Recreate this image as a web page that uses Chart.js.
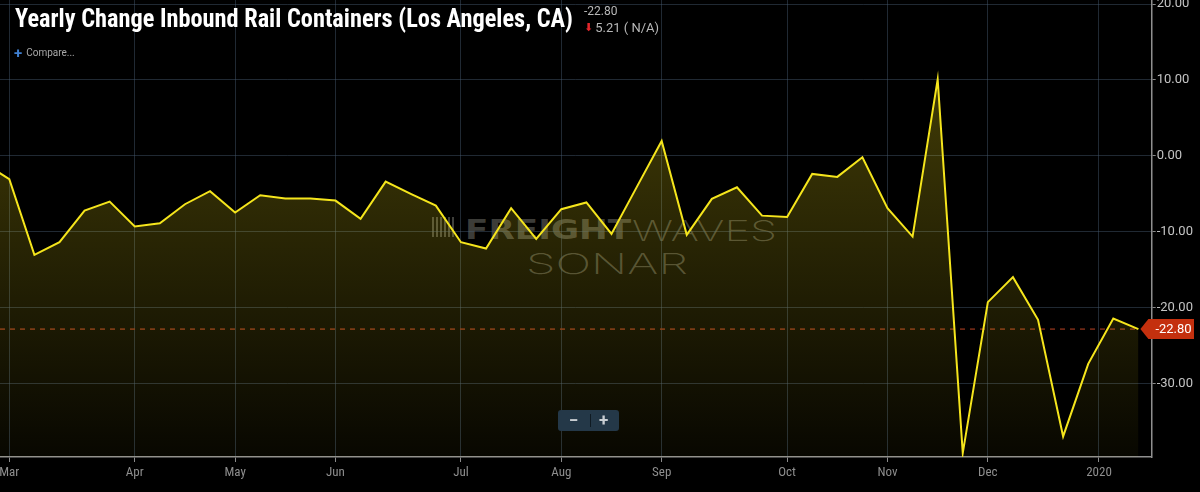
<!DOCTYPE html>
<html>
<head>
<meta charset="utf-8">
<title>Yearly Change Inbound Rail Containers (Los Angeles, CA)</title>
<script src="https://cdn.jsdelivr.net/npm/chart.js@4.4.1/dist/chart.umd.min.js"></script>
<style>
    html, body { margin: 0; padding: 0; background: #000; overflow: hidden; }
    #wrap { position: relative; width: 1200px; height: 492px; }
    #chartBox { position: absolute; left: 0; top: 0; width: 1200px; height: 492px; z-index: 1; }
    .fit { display: inline-block; transform-origin: 0 0; white-space: nowrap; line-height: 1; }
    #title { position: absolute; left: 15px; top: 3px; z-index: 2; color: #fff; font-weight: bold;
             font-size: 26px; font-family: 'Roboto Condensed', 'Liberation Sans Narrow', 'DejaVu Sans Condensed', Roboto, sans-serif; }
    #lastVal { position: absolute; left: 584px; top: 4px; z-index: 2; color: #b8b8b8; font: 12px Roboto, sans-serif; }
    #change { position: absolute; left: 584px; top: 20px; z-index: 2; color: #b8b8b8; font: 13px Roboto, sans-serif; }
    #change b { color: #e3262b; font: 11px 'DejaVu Sans', sans-serif; margin-right: 2px; vertical-align: 1px; }
    #compare { position: absolute; left: 14px; top: 44px; z-index: 2; color: #a8a8a8; font: 10px Roboto, sans-serif; }
    #compare b { color: #3f7fd0; font-size: 15px; margin-right: 4px; vertical-align: -2px; }
    .wm { position: absolute; z-index: 0; color: rgba(150, 150, 140, 0.42); }
    #wmBars { position: absolute; z-index: 0; left: 432px; top: 217px; width: 22px; height: 20px;
              background: repeating-linear-gradient(90deg, rgba(150,150,140,0.42) 0 2px, transparent 2px 4px); }
    #wmFreight { left: 465px; top: 214px; font: bold 27px 'DejaVu Sans', sans-serif; }
    #wmWaves { left: 632px; top: 214px; font: 200 28px Inter, sans-serif; }
    #wmSonar { left: 526px; top: 247px; font: 200 28px Inter, sans-serif; }
    #zoomBtns { position: absolute; z-index: 2; left: 558px; top: 410px; width: 61px; height: 21px;
                background: #243848; border-radius: 3px; color: #c9ced2; font: bold 17px Roboto, sans-serif; }
    #zoomBtns span { position: absolute; top: 0; line-height: 20px; }
    #zoomBtns i { position: absolute; left: 32px; top: 4px; width: 1px; height: 13px; background: #0f1a22; }
</style>
</head>
<body>
<div id="wrap">
    <div id="wmBars"></div>
    <div class="wm" id="wmFreight"><span class="fit">FREIGHT</span></div>
    <div class="wm" id="wmWaves"><span class="fit">WAVES</span></div>
    <div class="wm" id="wmSonar"><span class="fit">SONAR</span></div>
    <div id="chartBox"><canvas id="railChart"></canvas></div>
    <div id="title"><span class="fit">Yearly Change Inbound Rail Containers (Los Angeles, CA)</span></div>
    <div id="lastVal">-22.80</div>
    <div id="change"><b>&#11015;</b>5.21 ( N/A)</div>
    <div id="compare"><b>+</b>Compare...</div>
    <div id="zoomBtns"><span style="left:11px">&#8722;</span><i></i><span style="left:41px">+</span></div>
</div>
<script>
// Weekly observations (week ending Sunday)
const weeks = [
    '2019-02-24', '2019-03-03', '2019-03-10', '2019-03-17', '2019-03-24', '2019-03-31',
    '2019-04-07', '2019-04-14', '2019-04-21', '2019-04-28',
    '2019-05-05', '2019-05-12', '2019-05-19', '2019-05-26',
    '2019-06-02', '2019-06-09', '2019-06-16', '2019-06-23', '2019-06-30',
    '2019-07-07', '2019-07-14', '2019-07-21', '2019-07-28',
    '2019-08-04', '2019-08-11', '2019-08-18', '2019-08-25',
    '2019-09-01', '2019-09-08', '2019-09-15', '2019-09-22', '2019-09-29',
    '2019-10-06', '2019-10-13', '2019-10-20', '2019-10-27',
    '2019-11-03', '2019-11-10', '2019-11-17', '2019-11-24',
    '2019-12-01', '2019-12-08', '2019-12-15', '2019-12-22', '2019-12-29',
    '2020-01-05', '2020-01-12'
];

// Yearly change (%) of inbound rail containers
const yoyChange = [
    -0.93, -3.07, -13.03, -11.36, -7.20, -6.01,
    -9.30, -8.86, -6.36, -4.64,
    -7.46, -5.17, -5.62, -5.62,
    -5.88, -8.29, -3.38, -5.00, -6.54,
    -11.36, -12.20, -6.88, -10.92,
    -7.01, -6.12, -10.26, -4.14,
    1.97, -10.39, -5.66, -4.12, -7.86,
    -8.03, -2.37, -2.76, -0.17,
    -6.88, -10.62, 10.09, -39.12,
    -19.25, -15.96, -21.58, -36.93, -27.37,
    -21.41, -22.80
];

const tickLabels = ['Mar', 'Apr', 'May', 'Jun', 'Jul', 'Aug', 'Sep', 'Oct', 'Nov', 'Dec', '2020'];
const tickDates = ['2019-03-03', '2019-04-07', '2019-05-05', '2019-06-02', '2019-07-07', '2019-08-04',
                   '2019-09-01', '2019-10-06', '2019-11-03', '2019-12-01', '2020-01-01'];
const yTicks = [-30, -20, -10, 0, 10, 20];

// position of a date on the ordinal week axis
function dateToIndex(d) {
    const t = Date.parse(d);
    for (let i = 0; i < weeks.length - 1; i++) {
        const a = Date.parse(weeks[i]), b = Date.parse(weeks[i + 1]);
        if (t >= a && t < b) return i + (t - a) / (b - a);
    }
    return weeks.length - 1;
}

function fitWidth(id, w) {
    const el = document.querySelector('#' + id + ' .fit');
    el.style.transform = 'scaleX(' + (w / el.getBoundingClientRect().width) + ')';
}
fitWidth('title', 558);
fitWidth('wmFreight', 166);
fitWidth('wmWaves', 145);
fitWidth('wmSonar', 162);

const gridColor = 'rgba(70, 92, 112, 0.45)';
const condensed = "'Roboto Condensed', 'Liberation Sans Narrow', 'DejaVu Sans Condensed', Roboto, sans-serif";

const lastValueMarker = {
    id: 'lastValueMarker',
    beforeDatasetsDraw(chart) {
        const {ctx, chartArea, scales} = chart;
        const last = yoyChange.length - 1;
        const px = scales.x.getPixelForValue(last);
        const py = scales.y.getPixelForValue(yoyChange[last]);
        ctx.save();
        ctx.strokeStyle = '#86301a';
        ctx.lineWidth = 1.4;
        ctx.setLineDash([5, 5]);
        ctx.beginPath();
        ctx.moveTo(chartArea.left, py);
        ctx.lineTo(px, py);
        ctx.stroke();
        ctx.restore();
    },
    afterDraw(chart) {
        const {ctx, scales} = chart;
        const last = yoyChange.length - 1;
        const px = scales.x.getPixelForValue(last);
        const py = scales.y.getPixelForValue(yoyChange[last]);
        ctx.save();
        ctx.fillStyle = '#c4300e';
        ctx.beginPath();
        ctx.moveTo(px + 2, py);
        ctx.lineTo(px + 10, py - 10);
        ctx.lineTo(1194, py - 10);
        ctx.lineTo(1194, py + 10);
        ctx.lineTo(px + 10, py + 10);
        ctx.closePath();
        ctx.fill();
        ctx.fillStyle = '#ffffff';
        ctx.font = '13px Roboto, sans-serif';
        ctx.textBaseline = 'middle';
        ctx.textAlign = 'left';
        ctx.fillText(yoyChange[last].toFixed(2), px + 17, py + 0.5);
        ctx.restore();
    }
};

new Chart(document.getElementById('railChart'), {
    type: 'line',
    data: {
        labels: weeks,
        datasets: [{
            label: 'Yearly Change Inbound Rail Containers (Los Angeles, CA)',
            data: yoyChange.map((v, i) => ({x: i, y: v})),
            borderColor: '#f5e51c',
            borderWidth: 2,
            pointRadius: 0,
            tension: 0,
            fill: 'start',
            backgroundColor: function(context) {
                const {ctx, chartArea} = context.chart;
                if (!chartArea) return 'rgba(255, 232, 25, 0.15)';
                const g = ctx.createLinearGradient(0, chartArea.top, 0, chartArea.bottom);
                g.addColorStop(0, 'rgba(255, 232, 25, 0.30)');
                g.addColorStop(1, 'rgba(255, 232, 25, 0.03)');
                return g;
            }
        }]
    },
    options: {
        responsive: true,
        maintainAspectRatio: false,
        animation: false,
        layout: { padding: 0 },
        plugins: {
            legend: { display: false },
            tooltip: { enabled: false }
        },
        scales: {
            x: {
                type: 'linear',
                min: 0.6293,
                max: 46.53,
                afterBuildTicks: s => { s.ticks = tickDates.map(d => ({value: dateToIndex(d)})); },
                afterFit: s => { s.paddingLeft = 0; s.paddingRight = 0; s.height = 35; },
                ticks: {
                    callback: (v, i) => tickLabels[i],
                    color: '#8e8e8e',
                    font: { family: condensed, size: 13 },
                    padding: 3,
                    autoSkip: false,
                    maxRotation: 0
                },
                grid: { color: gridColor, tickColor: '#8a8a8a', tickLength: 5 },
                border: { display: true, color: '#8f8f8f', width: 1.5 }
            },
            y: {
                position: 'right',
                min: -39.64,
                max: 20.53,
                afterBuildTicks: s => { s.ticks = yTicks.map(v => ({value: v})); },
                afterFit: s => { s.paddingTop = 0; s.paddingBottom = 0; s.width = 48.3; },
                ticks: {
                    callback: v => v.toFixed(2),
                    color: '#c4c4c4',
                    font: { family: 'Roboto, sans-serif', size: 13 },
                    padding: 1
                },
                grid: { color: gridColor, tickColor: '#8a8a8a', tickLength: 4 },
                border: { display: true, color: '#8f8f8f', width: 1.5 }
            }
        }
    },
    plugins: [lastValueMarker]
});
</script>
</body>
</html>
